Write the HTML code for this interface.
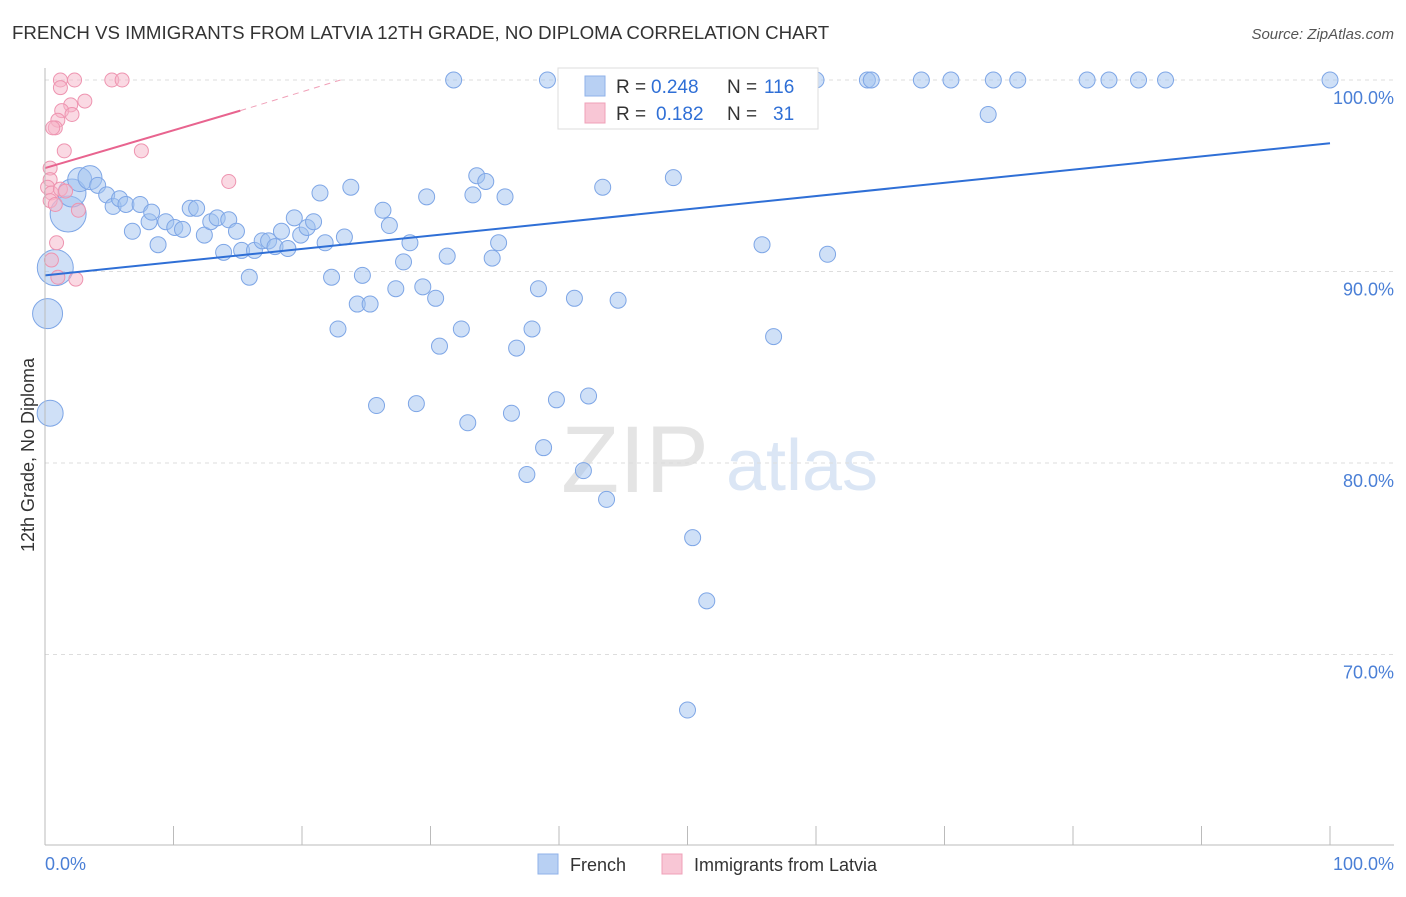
<!DOCTYPE html>
<html><head><meta charset="utf-8"><style>
body{margin:0;background:#fff;font-family:"Liberation Sans",sans-serif}
svg text{font-family:"Liberation Sans",sans-serif}
</style></head><body>
<svg id="c" width="1406" height="892">
<text x="12" y="39" font-size="18.7" fill="#333">FRENCH VS IMMIGRANTS FROM LATVIA 12TH GRADE, NO DIPLOMA CORRELATION CHART</text>
<text x="1394" y="39" font-size="15" fill="#555" font-style="italic" text-anchor="end">Source: ZipAtlas.com</text>
<text x="34" y="455" font-size="18" fill="#333" transform="rotate(-90 34 455)" text-anchor="middle">12th Grade, No Diploma</text>
<text x="635" y="492" font-size="95" fill="#e4e4e4" font-family="Liberation Serif" text-anchor="middle">ZIP</text>
<text x="802" y="490" font-size="72" fill="#dbe6f5" text-anchor="middle">atlas</text>
<g id="grid"></g><g id="pts"></g><g id="lines"></g>
<line x1="45" y1="845" x2="1394" y2="845" stroke="#bbb"/>
<line x1="45" y1="68" x2="45" y2="845" stroke="#bbb"/>
<text x="45" y="870" font-size="18" fill="#4a7fd6">0.0%</text>
<text x="1394" y="870" font-size="18" fill="#4a7fd6" text-anchor="end">100.0%</text>
<g>
<rect x="558" y="68" width="260" height="61" fill="#fff" stroke="#ddd"/>
<rect x="585" y="76" width="20" height="20" fill="#b8d0f3" stroke="#8fb2ea"/>
<rect x="585" y="103" width="20" height="20" fill="#f8c6d5" stroke="#efa0b8"/>
<text x="616" y="93" font-size="19" fill="#333">R =</text>
<text x="651" y="93" font-size="19" fill="#2f6fd6">0.248</text>
<text x="727" y="93" font-size="19" fill="#333">N =</text>
<text x="764" y="93" font-size="19" fill="#2f6fd6">116</text>
<text x="616" y="120" font-size="19" fill="#333">R =</text>
<text x="656" y="120" font-size="19" fill="#2f6fd6">0.182</text>
<text x="727" y="120" font-size="19" fill="#333">N =</text>
<text x="773" y="120" font-size="19" fill="#2f6fd6">31</text>
</g>
<g>
<rect x="538" y="854" width="20" height="20" fill="#b8d0f3" stroke="#8fb2ea"/>
<text x="570" y="871" font-size="18" fill="#333">French</text>
<rect x="662" y="854" width="20" height="20" fill="#f8c6d5" stroke="#efa0b8"/>
<text x="694" y="871" font-size="18" fill="#333">Immigrants from Latvia</text>
</g>
</svg>
<script>
const yTicks=[100,90,80,70];
const xTickCount=10;
const blueX=[31.8,39.1,40.9,45.3,46.7,52.7,54.2,55.2,60.0,64.0,64.3,68.2,70.5,73.8,75.7,81.1,82.8,85.1,87.2,100,73.4,0.2,0.4,0.8,1.8,2.1,2.7,3.5,4.1,4.8,5.3,5.8,6.3,6.8,7.4,8.1,8.3,8.8,9.4,10.1,10.7,11.3,11.8,12.4,12.9,13.4,13.9,14.3,14.9,15.3,15.9,16.3,16.9,17.4,17.9,18.4,18.9,19.4,19.9,20.4,20.9,21.4,21.8,22.3,22.8,23.3,23.8,24.3,24.7,25.3,25.8,26.3,26.8,27.3,27.9,28.4,28.9,29.4,29.7,30.4,30.7,31.3,32.4,32.9,33.3,33.6,34.3,34.8,35.3,35.8,36.3,36.7,37.5,37.9,38.4,38.8,39.8,41.2,41.9,42.3,43.4,43.7,44.6,48.9,50.0,50.4,51.5,55.8,56.7,60.9];
const blueY=[100,100,100,100,100,100,100,100,100,100,100,100,100,100,100,100,100,100,100,100,98.2,87.8,82.6,90.2,93.0,94.1,94.8,94.9,94.5,94.0,93.4,93.8,93.5,92.1,93.5,92.6,93.1,91.4,92.6,92.3,92.2,93.3,93.3,91.9,92.6,92.8,91.0,92.7,92.1,91.1,89.7,91.1,91.6,91.6,91.3,92.1,91.2,92.8,91.9,92.3,92.6,94.1,91.5,89.7,87.0,91.8,94.4,88.3,89.8,88.3,83.0,93.2,92.4,89.1,90.5,91.5,83.1,89.2,93.9,88.6,86.1,90.8,87.0,82.1,94.0,95.0,94.7,90.7,91.5,93.9,82.6,86.0,79.4,87.0,89.1,80.8,83.3,88.6,79.6,83.5,94.4,78.1,88.5,94.9,67.1,76.1,72.8,91.4,86.6,90.9];
const blueBig={21:15,22:13,23:18,24:18,25:14,26:12,27:12};
const pinkX=[1.2,2.3,5.2,6.0,1.2,3.1,2.0,1.3,2.1,1.0,0.8,0.6,1.5,7.5,0.4,14.3,0.4,0.2,0.5,1.2,1.6,0.4,0.8,2.6,0.9,0.5,1.0,2.4];
const pinkY=[100,100,100,100,99.6,98.9,98.7,98.4,98.2,97.9,97.5,97.5,96.3,96.3,95.4,94.7,94.8,94.4,94.1,94.3,94.2,93.7,93.5,93.2,91.5,90.6,89.7,89.6];
const blueLine=[[0,89.8],[100,96.7]];
const pinkLine=[[0,95.4],[15.2,98.4]];
const pinkDash=[[15.2,98.4],[23,100]];
const sx=v=>45+v*12.85, sy=v=>80+(100-v)*19.15;
const NS='http://www.w3.org/2000/svg';
function mk(t,a,p){const e=document.createElementNS(NS,t);for(const k in a)e.setAttribute(k,a[k]);p.appendChild(e);return e;}
const g=document.getElementById('grid');
yTicks.forEach(t=>{
 const l=mk('line',{x1:45,x2:1394,y1:sy(t),y2:sy(t),stroke:'#ddd','stroke-dasharray':'4,4'},g);
 
 
 const tx=mk('text',{x:1394,y:sy(t)+24,'font-size':18,fill:'#4a7fd6','text-anchor':'end'},g);
 tx.textContent=t.toFixed(1)+'%';
 
 
});
for(let i=1;i<=xTickCount;i++){
 const l=mk('line',{x1:sx(i*10),x2:sx(i*10),y1:826,y2:845,stroke:'#bbb'},g);
 
 
}
const P=document.getElementById('pts');
blueX.forEach((x,i)=>{
 const c=mk('circle',{cx:sx(x),cy:sy(blueY[i]),r:blueBig[i]||8,fill:'rgba(160,194,240,0.5)',stroke:'#7ea6e6','stroke-width':1},P);
 
 
});
pinkX.forEach((x,i)=>{
 const c=mk('circle',{cx:sx(x),cy:sy(pinkY[i]),r:7,fill:'rgba(246,180,200,0.5)',stroke:'#ee94b0','stroke-width':1},P);
 
 
});
const L=document.getElementById('lines');
const bl=mk('line',{x1:sx(blueLine[0][0]),y1:sy(blueLine[0][1]),x2:sx(blueLine[1][0]),y2:sy(blueLine[1][1]),stroke:'#2f6fd6','stroke-width':2},L);


const pl=mk('line',{x1:sx(pinkLine[0][0]),y1:sy(pinkLine[0][1]),x2:sx(pinkLine[1][0]),y2:sy(pinkLine[1][1]),stroke:'#e8648f','stroke-width':2},L);


const pd=mk('line',{x1:sx(pinkDash[0][0]),y1:sy(pinkDash[0][1]),x2:sx(pinkDash[1][0]),y2:sy(pinkDash[1][1]),stroke:'#f0a0b8','stroke-width':1,'stroke-dasharray':'6,5'},L);


</script>
</body></html>
